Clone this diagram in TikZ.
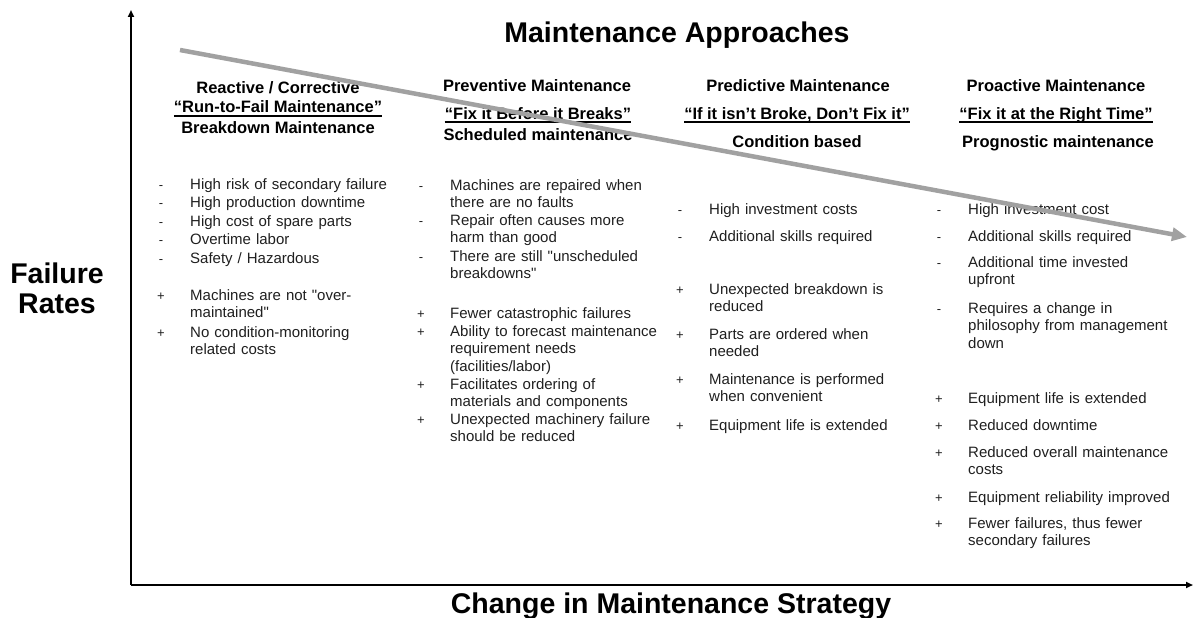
\documentclass[tikz,border=0pt]{standalone}
\usepackage{fontspec}
\setmainfont{Liberation Sans}
\usetikzlibrary{arrows.meta}
\definecolor{trendgray}{gray}{0.63}
\definecolor{bodytext}{gray}{0.12}
% one bullet of a list: name, x, y (baseline), sign, text
\newcommand{\pointitem}[5]{%
	\node[signmark] (#1s) at (#2-29,#3) {#4};
	\node[pointtext] (#1) at (#2,#3) {#5};
}

\begin{document}
\begin{tikzpicture}[x=1pt,y=-1pt,
		signmark/.style={anchor=base,inner sep=0pt,text=bodytext,font=\fontsize{13}{16}\selectfont},
		pointtext/.style={anchor=base west,inner sep=0pt,text width=260pt,align=left,text=bodytext,font=\fontsize{15}{17.8}\selectfont},
		headline/.style={anchor=base,inner sep=0pt,font=\bfseries\fontsize{16.5}{19}\selectfont},
		bigtitle/.style={inner sep=0pt,font=\bfseries\fontsize{28.5}{30}\selectfont},
		uline/.style={line width=1.6pt},
		axis/.style={line width=2pt,-{Triangle[length=7pt,width=6pt]}}]
			\useasboundingbox (0,0) rectangle (1195,618);
			
			% Axes
			\coordinate (origin) at (131,585);
			\coordinate (ytop) at (131,10);
			\coordinate (xend) at (1193,585);
			\draw[axis] (origin) -- (ytop);
			\draw[axis] (origin) -- (xend);
			\node[bigtitle,align=center] (ylabel) at (57,288) {Failure\\Rates};
			\node[bigtitle,anchor=base] (xlabel) at (671,613) {Change in Maintenance Strategy};
			\node[bigtitle,anchor=base] (title) at (677,43) {Maintenance Approaches};
			
			% Column headers
			\node[headline] (reac-a) at (278,93) {Reactive / Corrective};
			\node[headline] (reac-b) at (278,113) {“Run-to-Fail Maintenance”};
			\node[headline] (reac-c) at (278,133) {Breakdown Maintenance};
			\node[headline] (prev-a) at (537,92) {Preventive Maintenance};
			\node[headline] (prev-b) at (538,119) {“Fix it Before it Breaks”};
			\node[headline] (prev-c) at (538,140) {Scheduled maintenance};
			\node[headline] (pred-a) at (798,92) {Predictive Maintenance};
			\node[headline] (pred-b) at (797,119) {“If it isn’t Broke, Don’t Fix it”};
			\node[headline] (pred-c) at (797,147) {Condition based};
			\node[headline] (proa-a) at (1056,92) {Proactive Maintenance};
			\node[headline] (proa-b) at (1056,119) {“Fix it at the Right Time”};
			\node[headline] (proa-c) at (1058,147) {Prognostic maintenance};
			\foreach \h in {reac-b,prev-b,pred-b,proa-b}
				\draw[uline] ([yshift=-3pt]\h.base west) -- ([yshift=-3pt]\h.base east);
			
			% Reactive
			\pointitem{reac1}{190}{189}{-}{High risk of secondary failure}
			\pointitem{reac2}{190}{207}{-}{High production downtime}
			\pointitem{reac3}{190}{226}{-}{High cost of spare parts}
			\pointitem{reac4}{190}{244}{-}{Overtime labor}
			\pointitem{reac5}{190}{263}{-}{Safety / Hazardous}
			\pointitem{reac6}{190}{300}{+}{Machines are not \textquotedbl over-\\maintained\textquotedbl}
			\pointitem{reac7}{190}{337}{+}{No condition-monitoring\\related costs}
			
			% Preventive
			\pointitem{prev1}{450}{190}{-}{Machines are repaired when\\there are no faults}
			\pointitem{prev2}{450}{225}{-}{Repair often causes more\\harm than good}
			\pointitem{prev3}{450}{261}{-}{There are still \textquotedbl unscheduled\\breakdowns\textquotedbl}
			\pointitem{prev4}{450}{318}{+}{Fewer catastrophic failures}
			\pointitem{prev5}{450}{336}{+}{Ability to forecast maintenance\\requirement needs\\(facilities/labor)}
			\pointitem{prev6}{450}{389}{+}{Facilitates ordering of\\materials and components}
			\pointitem{prev7}{450}{424}{+}{Unexpected machinery failure\\should be reduced}
			
			% Predictive
			\pointitem{pred1}{709}{214}{-}{High investment costs}
			\pointitem{pred2}{709}{241}{-}{Additional skills required}
			\pointitem{pred3}{709}{294}{+}{Unexpected breakdown is\\reduced}
			\pointitem{pred4}{709}{339}{+}{Parts are ordered when\\needed}
			\pointitem{pred5}{709}{384}{+}{Maintenance is performed\\when convenient}
			\pointitem{pred6}{709}{430}{+}{Equipment life is extended}
			
			% Proactive
			\pointitem{proa1}{968}{214}{-}{High investment cost}
			\pointitem{proa2}{968}{241}{-}{Additional skills required}
			\pointitem{proa3}{968}{267}{-}{Additional time invested\\upfront}
			\pointitem{proa4}{968}{313}{-}{Requires a change in\\philosophy from management\\down}
			\pointitem{proa5}{968}{403}{+}{Equipment life is extended}
			\pointitem{proa6}{968}{430}{+}{Reduced downtime}
			\pointitem{proa7}{968}{457}{+}{Reduced overall maintenance\\costs}
			\pointitem{proa8}{968}{502}{+}{Equipment reliability improved}
			\pointitem{proa9}{968}{528}{+}{Fewer failures, thus fewer\\secondary failures}
			
			% Trend arrow
			\coordinate (trendstart) at (180,50);
			\coordinate (trendend) at (1187,237);
			\draw[trendgray,line width=4.5pt,-{Triangle[length=15pt,width=13pt]}] (trendstart) -- (trendend);
		\end{tikzpicture}
\end{document}
